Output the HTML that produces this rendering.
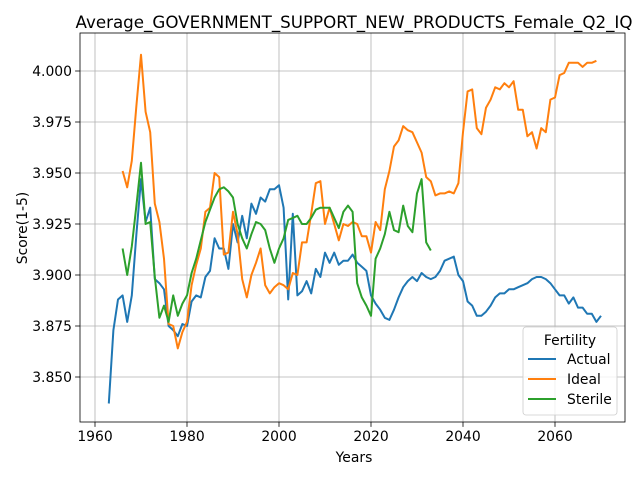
<!DOCTYPE html>
<html><head><meta charset="utf-8"><style>
body{margin:0;background:#fff;font-family:"Liberation Sans","DejaVu Sans",sans-serif}
svg text{font-family:"DejaVu Sans","Liberation Sans",sans-serif}
</style></head><body>
<svg id="c" width="640" height="480" viewBox="0 0 640 480"></svg>
<script>
const actualStart=1963;
const actual=[3.837,3.873,3.888,3.890,3.877,3.890,3.920,3.947,3.926,3.933,3.898,3.896,3.893,3.875,3.873,3.870,3.876,3.875,3.887,3.890,3.889,3.899,3.902,3.918,3.913,3.913,3.903,3.925,3.916,3.929,3.918,3.935,3.930,3.938,3.936,3.942,3.942,3.944,3.933,3.888,3.930,3.890,3.892,3.897,3.891,3.903,3.899,3.911,3.906,3.911,3.905,3.907,3.907,3.910,3.906,3.904,3.902,3.890,3.886,3.883,3.879,3.878,3.883,3.889,3.894,3.897,3.899,3.897,3.901,3.899,3.898,3.899,3.902,3.907,3.908,3.909,3.900,3.897,3.887,3.885,3.880,3.880,3.882,3.885,3.889,3.891,3.891,3.893,3.893,3.894,3.895,3.896,3.898,3.899,3.899,3.898,3.896,3.893,3.890,3.890,3.886,3.889,3.884,3.884,3.881,3.881,3.877,3.880];
const idealStart=1966;
const ideal=[3.951,3.943,3.956,3.983,4.008,3.980,3.970,3.935,3.926,3.908,3.876,3.875,3.864,3.872,3.877,3.895,3.905,3.913,3.931,3.933,3.950,3.948,3.910,3.911,3.931,3.920,3.898,3.889,3.900,3.906,3.913,3.895,3.891,3.894,3.896,3.895,3.893,3.901,3.900,3.916,3.916,3.930,3.945,3.946,3.925,3.933,3.925,3.917,3.925,3.924,3.926,3.925,3.919,3.919,3.911,3.926,3.922,3.942,3.951,3.963,3.966,3.973,3.971,3.970,3.965,3.960,3.948,3.946,3.939,3.940,3.940,3.941,3.940,3.945,3.970,3.990,3.991,3.972,3.969,3.982,3.986,3.992,3.991,3.994,3.992,3.995,3.981,3.981,3.968,3.970,3.962,3.972,3.970,3.986,3.987,3.998,3.999,4.004,4.004,4.004,4.002,4.004,4.004,4.005];
const sterileStart=1966;
const sterile=[3.913,3.900,3.914,3.934,3.955,3.925,3.926,3.899,3.879,3.885,3.877,3.890,3.880,3.886,3.890,3.901,3.908,3.917,3.926,3.932,3.938,3.942,3.943,3.941,3.938,3.925,3.918,3.913,3.920,3.926,3.925,3.922,3.913,3.906,3.913,3.918,3.927,3.928,3.929,3.925,3.925,3.928,3.932,3.933,3.933,3.933,3.928,3.923,3.931,3.934,3.931,3.896,3.889,3.885,3.880,3.908,3.913,3.920,3.931,3.922,3.921,3.934,3.924,3.921,3.940,3.947,3.916,3.912];
const xTicks=[1960,1980,2000,2020,2040,2060];
const yTicks=[3.850,3.875,3.900,3.925,3.950,3.975,4.000];
const seriesNames=["Actual","Ideal","Sterile"];
const colors=["#1f77b4","#ff7f0e","#2ca02c"];

const L=80,R=625,T=33,B=422;
const X=y=>95+(y-1960)*4.6;
const Y=v=>71+(4.0-v)*2040;
const svg=document.getElementById('c');
const NS='http://www.w3.org/2000/svg';
function mk(t,a,p){const e=document.createElementNS(NS,t);for(const k in a)e.setAttribute(k,a[k]);(p||svg).appendChild(e);return e;}

xTicks.forEach(t=>{
 const g=mk('line',{x1:X(t),x2:X(t),y1:T,y2:B,stroke:'#b0b0b0','stroke-width':0.8});
 
 
 const tk=mk('line',{x1:X(t),x2:X(t),y1:B,y2:B+4.9,stroke:'#000','stroke-width':0.8});
 
 
 const tx=mk('text',{x:X(t),y:B+19,'text-anchor':'middle','font-size':13.9});
 tx.textContent=t;
 
 
});
yTicks.forEach(t=>{
 const g=mk('line',{x1:L,x2:R,y1:Y(t),y2:Y(t),stroke:'#b0b0b0','stroke-width':0.8});
 
 
 const tk=mk('line',{x1:L-4.9,x2:L,y1:Y(t),y2:Y(t),stroke:'#000','stroke-width':0.8});
 
 
 const tx=mk('text',{x:L-8,y:Y(t)+5,'text-anchor':'end','font-size':13.9});
 tx.textContent=t.toFixed(3);
 
 
});
const data=[[actualStart,actual],[idealStart,ideal],[sterileStart,sterile]];
data.forEach((d,i)=>{
 const pts=d[1].map((v,j)=>X(d[0]+j).toFixed(1)+','+Y(v).toFixed(1)).join(' ');
 const p=mk('polyline',{points:pts,fill:'none',stroke:colors[i],'stroke-width':2,'stroke-linejoin':'round'});
 
 
});
const fr=mk('rect',{x:L,y:T,width:R-L,height:B-T,fill:'none',stroke:'#000','stroke-width':0.8});


const ti=mk('text',{x:354,y:28,'text-anchor':'middle','font-size':16.7});
ti.textContent='Average_GOVERNMENT_SUPPORT_NEW_PRODUCTS_Female_Q2_IQ';


const xl=mk('text',{x:354,y:462,'text-anchor':'middle','font-size':13.9});
xl.textContent='Years';


const yl=mk('text',{x:27,y:228,'text-anchor':'middle','font-size':13.9,transform:'rotate(-90 27 228)'});
yl.textContent='Score(1-5)';


const lg=mk('g',{});


mk('rect',{x:523,y:327,width:94,height:88,rx:3,fill:'#fff','fill-opacity':0.8,stroke:'#ccc','stroke-width':0.8},lg);
const lt=mk('text',{x:570,y:345,'text-anchor':'middle','font-size':13.9},lg);
lt.textContent='Fertility';


seriesNames.forEach((n,i)=>{
 const yy=359+i*20;
 const ln=mk('line',{x1:528,x2:556,y1:yy,y2:yy,stroke:colors[i],'stroke-width':2},lg);
 
 
 const tx=mk('text',{x:567,y:yy+5,'font-size':13.9},lg);
 tx.textContent=n;
 
 
});
</script>
</body></html>
